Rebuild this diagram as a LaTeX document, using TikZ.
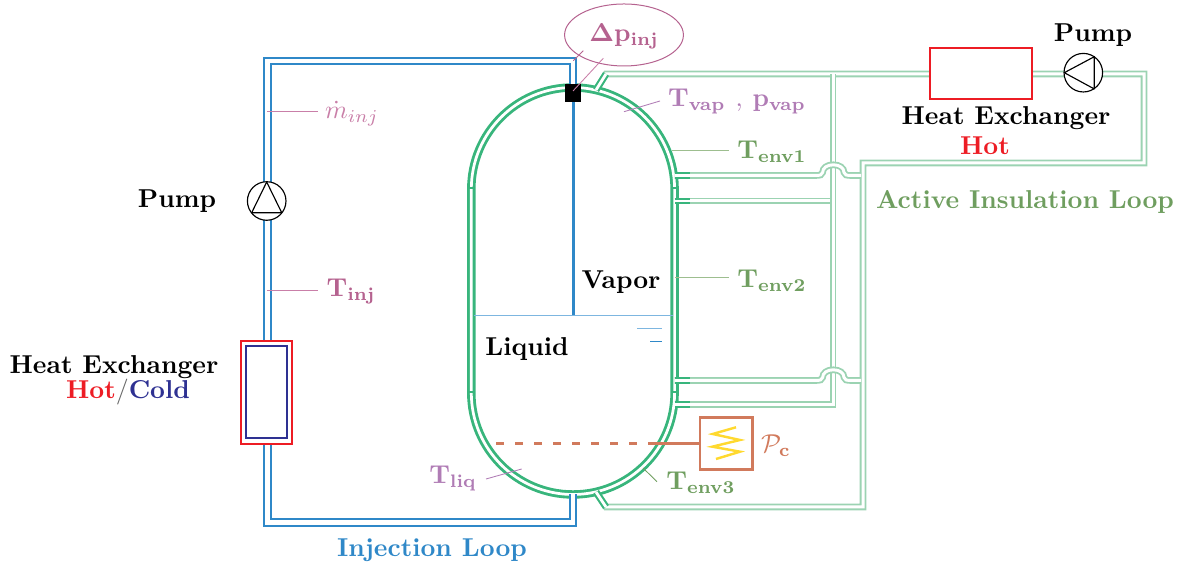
\documentclass[tikz,border=0pt]{standalone}
\usetikzlibrary{shapes.geometric}
\definecolor{pipeblue}{HTML}{2F88C8}
\definecolor{surfblue}{HTML}{7DB6E0}
\definecolor{wallgreen}{HTML}{38B57C}
\definecolor{looplight}{HTML}{9BD3B2}
\definecolor{labgreen}{HTML}{6F9E5F}
\definecolor{leadgreen}{HTML}{9DBE8F}
\definecolor{labpink}{HTML}{B5628F}
\definecolor{leadpink}{HTML}{C97FA8}
\definecolor{labpurple}{HTML}{B07CB5}
\definecolor{heatorange}{HTML}{D17A5C}
\definecolor{hotred}{HTML}{ED1C24}
\definecolor{coldblue}{HTML}{2E3192}
\definecolor{zigyellow}{HTML}{FFD92F}
\tikzset{
  bluepipe/.style={draw=pipeblue,line width=.68pt,double=white,double distance=1.65pt,line join=miter},
  wall/.style={draw=wallgreen,line width=1pt,double=white,double distance=.95pt},
  greenpipe/.style={draw=looplight,line width=.64pt,double=white,double distance=1.05pt,line join=miter},
  stub/.style={draw=wallgreen,line width=.72pt,double=white,double distance=1pt},
  wtick/.style={draw=wallgreen,line width=.55pt},
  lead/.style={line width=.3pt},
  lab/.style={inner sep=0pt,scale=.905},
  txt/.style={lab,font=\bfseries},
  pumpdisc/.style={circle,draw=black,fill=white,line width=.4pt,minimum size=13.5pt,inner sep=0pt},
  pumptri/.style={draw=black,line width=.4pt,line join=round},
}
\newcommand{\bumppipe}[1]{%
  \draw[greenpipe] (674.6,#1) -- (815,#1) .. controls (820,#1) and (822.4,#1-.5) .. (822.6,#1-3)
    .. controls (822.6,#1-7.5) and (827,#1-10.7) .. (833.3,#1-10.7)
    .. controls (839.6,#1-10.7) and (844,#1-7.5) .. (844,#1-3)
    .. controls (844.2,#1-.5) and (846.6,#1) .. (851.6,#1) -- (861,#1);}
\begin{document}
\begin{tikzpicture}[x=0.35pt,y=-0.35pt]
\useasboundingbox (0,0) rectangle (1182,565);
% tank wall
\draw[wall,rounded corners=35.56pt] (471.3,87.5) rectangle (674.6,494.5);
\foreach \yy in {188,392}{
  \draw[wtick] (468.5,\yy) -- (474,\yy);
  \draw[wtick] (672,\yy) -- (677,\yy);
}
% insulation loop
\draw[greenpipe] (596,90) -- (606,74) -- (1144,74) -- (1144,163) -- (863,163) -- (863,507) -- (606,507) -- (596,492);
\draw[greenpipe] (674.6,201) -- (833,201);
\draw[greenpipe] (674.6,404.5) -- (833,404.5) -- (833,74);
\bumppipe{175.5}
\bumppipe{380.5}
\draw[stub] (596,90) -- (606,74);
\draw[stub] (596,492) -- (606,507);
\foreach \yy in {175.5,201,380.5,404.5}{\draw[stub] (674.6,\yy) -- (690,\yy);}
% injection loop
\draw[bluepipe] (573,92) -- (573,61) -- (267.3,61) -- (267.3,522.5) -- (573,522.5) -- (573,494.5);
\draw[draw=pipeblue,line width=1.05pt] (573.2,100) -- (573.2,315.5);
\draw[draw=surfblue,line width=.55pt] (474,315.5) -- (673,315.5);
\draw[draw=surfblue,line width=.45pt] (637,328.7) -- (662,328.7);
\draw[draw=pipeblue,line width=.4pt] (650,341.3) -- (662,341.3);
\node[draw=none,fill=black,minimum width=5.5pt,minimum height=6.2pt,inner sep=0pt] (sq) at (573,93) {};
% pumps
\node[pumpdisc] (pumpL) at (266.7,201) {};
\draw[pumptri] (266.7,182) -- (251.7,212.7) -- (281.7,212.7) -- cycle;
\node[pumpdisc] (pumpR) at (1083.3,72.7) {};
\draw[pumptri] (1064.3,72.7) -- (1094.3,56.7) -- (1094.3,89) -- cycle;
% heat exchangers
\node[draw=hotred,fill=white,line width=.7pt,minimum width=35.8pt,minimum height=17.9pt,inner sep=0pt] (hxR) at (981.2,73.5) {};
\node[draw=hotred,fill=white,line width=.7pt,minimum width=18pt,minimum height=36pt,inner sep=0pt] (hxL) at (266.5,392.3) {};
\node[draw=coldblue,fill=white,line width=.7pt,minimum width=14.5pt,minimum height=32.3pt,inner sep=0pt] (hxLi) at (266.7,392.3) {};
% heater
\node[draw=heatorange,fill=white,line width=.95pt,minimum width=18.3pt,minimum height=18pt,inner sep=0pt] (heater) at (726.2,443.5) {};
\coordinate (heatend) at (650,443.5);
\coordinate (heatfar) at (496,443.5);
\draw[heatorange,line width=.95pt] (heater.west) -- (heatend);
\draw[heatorange,line width=.95pt,dash pattern=on 2.9pt off 3.75pt] (heatfar) -- (heatend);
\draw[zigyellow,line width=.85pt,line join=miter] (736,427.3) -- (712.7,434) -- (740,440) -- (712.3,446.7) -- (740,451.7) -- (716,459);
% sensors
\node[ellipse,draw=labpink,line width=.35pt,minimum width=41.6pt,minimum height=21.7pt,inner sep=0pt] (dp) at (624,35) {};
\node[lab,text=labpink] (dptext) at (624,36.5) {$\mathbf{\Delta p_{inj}}$};
\coordinate (dpa) at (573,91); \coordinate (dpb) at (603.3,58.3);
\draw[lead,leadpink] (dpb) -- (dpa);
\coordinate (dpc) at (583.3,50.7); \coordinate (dpd) at (573.3,60.7);
\draw[lead,labpink] (dpc) -- (dpd);
\node[lab,text=leadpink] (mdot) at (352,113.5) {$\dot{m}_{inj}$};
\coordinate (mdotp) at (267,111); \coordinate (mdotq) at (318,111); \draw[lead,leadpink] (mdotp) -- (mdotq);
\node[lab,text=labpink] (tinj) at (351,291) {$\mathbf{T_{inj}}$};
\coordinate (tinjp) at (267,290); \coordinate (tinjq) at (318,290); \draw[lead,leadpink] (tinjp) -- (tinjq);
\node[lab,text=labpurple] (tvap) at (737,101.5) {$\mathbf{T_{vap}}$\kern.5pt{} , \kern.5pt$\mathbf{p_{vap}}$};
\coordinate (tvapp) at (624,111.7); \coordinate (tvapq) at (660,101); \draw[lead,labpurple] (tvapp) -- (tvapq);
\node[lab,text=labgreen] (tenva) at (772,151.5) {$\mathbf{T_{env1}}$};
\coordinate (tenvap) at (672,150); \coordinate (tenvaq) at (729,150); \draw[lead,leadgreen] (tenvap) -- (tenvaq);
\node[lab,text=labgreen] (tenvb) at (772,280.5) {$\mathbf{T_{env2}}$};
\coordinate (tenvbp) at (675,277); \coordinate (tenvbq) at (729,277); \draw[lead,leadgreen] (tenvbp) -- (tenvbq);
\node[lab,text=labgreen] (tenvc) at (701,483) {$\mathbf{T_{env3}}$};
\coordinate (tenvcp) at (643,468); \coordinate (tenvcq) at (657,481.7); \draw[lead,labgreen] (tenvcp) -- (tenvcq);
\node[lab,text=labpurple] (tliq) at (453,478) {$\mathbf{T_{liq}}$};
\coordinate (tliqp) at (521.7,469); \coordinate (tliqq) at (486,479); \draw[lead,labpurple] (tliqp) -- (tliqq);
\node[lab,text=heatorange] (pc) at (776,446) {$\mathcal{P}_{\mathbf{c}}$};
% labels
\node[txt] (pl) at (177,201.5) {Pump};
\node[txt] (hl) at (114,367.5) {Heat Exchanger};
\node[txt] (hc) at (128,392.5) {\textcolor{hotred}{Hot}\textcolor{black!60}{\mdseries/}\textcolor{coldblue}{Cold}};
\node[txt] (pr) at (1093,35.5) {Pump};
\node[txt] (hr) at (1006,118.5) {Heat Exchanger};
\node[txt,text=hotred] (hh) at (985,146) {Hot};
\node[txt,text=labgreen] (ail) at (1025,201.5) {Active Insulation Loop};
\node[txt,text=pipeblue] (il) at (432,550.5) {Injection Loop};
\node[txt] (vap) at (621,282.5) {Vapor};
\node[txt] (liq) at (527,349.5) {Liquid};
\end{tikzpicture}
\end{document}
